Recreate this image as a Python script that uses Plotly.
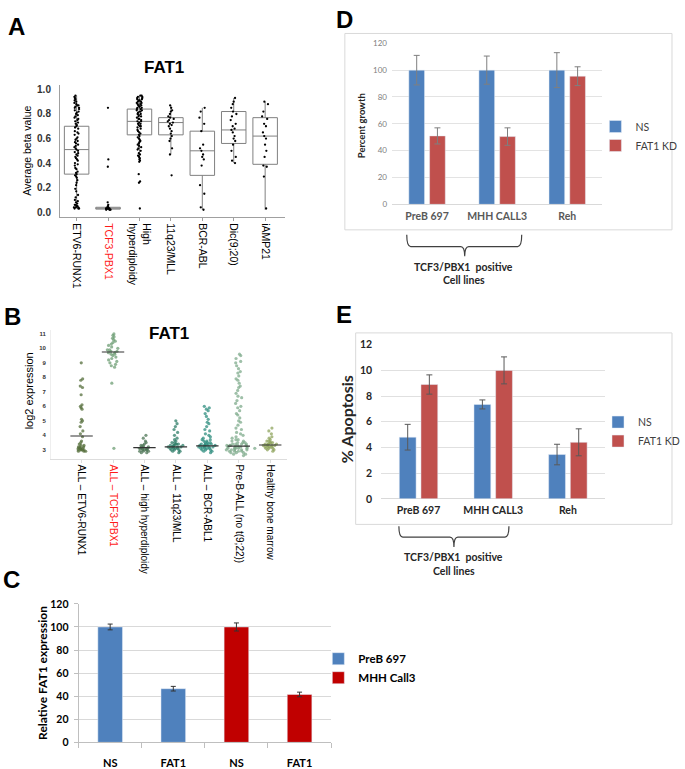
import plotly.graph_objects as go

W, H = 685, 769


def X(p):
    return round(p / W, 4)


def Y(p):
    return round(1 - p / H, 4)


ARIAL = "Liberation Sans, Arial"
CAL = "Lato, Carlito, Calibri"

# ---------------- A: methylation (beta values) ----------------
a_groups = ["ETV6-RUNX1", "<span style='color:#ff1a1a'>TCF3-PBX1</span>", "High<br>hyperdiploidy",
            "11q23/MLL", "BCR-ABL", "Dic(9;20)", "iAMP21"]
a_q1 = [0.31, 0.025, 0.63, 0.63, 0.30, 0.56, 0.39]
a_med = [0.51, 0.03, 0.74, 0.73, 0.50, 0.67, 0.62]
a_q3 = [0.70, 0.04, 0.84, 0.77, 0.66, 0.82, 0.77]
a_lo = [0.03, 0.02, 0.42, 0.47, 0.02, 0.40, 0.02]
a_hi = [0.95, 0.05, 0.95, 0.87, 0.85, 0.93, 0.90]

a_etv6 = [0.95, 0.94, 0.93, 0.92, 0.91, 0.90, 0.89, 0.88, 0.87, 0.87, 0.86, 0.85, 0.85, 0.84, 0.83, 0.82,
          0.81, 0.80, 0.79, 0.78, 0.77, 0.76, 0.75, 0.74, 0.73, 0.72, 0.71, 0.70, 0.69, 0.68, 0.66, 0.65,
          0.64, 0.63, 0.61, 0.60, 0.59, 0.58, 0.57, 0.56, 0.55, 0.54, 0.53, 0.52, 0.51, 0.50, 0.49, 0.48,
          0.47, 0.46, 0.45, 0.44, 0.43, 0.42, 0.40, 0.39, 0.38, 0.36, 0.35, 0.33, 0.32, 0.31, 0.30, 0.29,
          0.28, 0.26, 0.24, 0.22, 0.19, 0.17, 0.14, 0.12, 0.10, 0.09, 0.08, 0.07, 0.06, 0.06, 0.05, 0.05,
          0.04, 0.04, 0.04, 0.03, 0.03, 0.03]
a_tcf3 = [0.85, 0.43, 0.37, 0.08, 0.06, 0.05, 0.04, 0.04, 0.04, 0.03, 0.03, 0.03, 0.03, 0.03, 0.02,
          0.02, 0.02]
a_hyper = [0.95, 0.95, 0.94, 0.94, 0.93, 0.93, 0.92, 0.92, 0.91, 0.91, 0.90, 0.90, 0.89, 0.89, 0.88,
           0.88, 0.87, 0.87, 0.86, 0.86, 0.85, 0.85, 0.84, 0.84, 0.83, 0.83, 0.82, 0.82, 0.81, 0.80,
           0.80, 0.79, 0.78, 0.78, 0.77, 0.76, 0.76, 0.75, 0.74, 0.74, 0.73, 0.72, 0.72, 0.71, 0.70,
           0.70, 0.69, 0.68, 0.67, 0.66, 0.65, 0.64, 0.63, 0.62, 0.61, 0.60, 0.59, 0.58, 0.57, 0.56,
           0.55, 0.54, 0.53, 0.52, 0.51, 0.50, 0.48, 0.47, 0.46, 0.45, 0.44, 0.43, 0.42, 0.41, 0.31,
           0.25, 0.24, 0.03]
a_mll = [0.87, 0.85, 0.83, 0.82, 0.80, 0.78, 0.77, 0.76, 0.75, 0.74, 0.73, 0.72, 0.71, 0.70, 0.68,
         0.66, 0.64, 0.62, 0.60, 0.58, 0.52, 0.47, 0.30]
a_bcr = [0.85, 0.82, 0.77, 0.72, 0.66, 0.55, 0.52, 0.50, 0.47, 0.45, 0.43, 0.38, 0.22, 0.15, 0.04, 0.02]
a_dic = [0.93, 0.90, 0.88, 0.85, 0.82, 0.80, 0.78, 0.75, 0.72, 0.70, 0.68, 0.67, 0.65, 0.62, 0.60,
         0.58, 0.55, 0.50, 0.45, 0.42, 0.40]
a_iamp = [0.90, 0.88, 0.82, 0.78, 0.76, 0.72, 0.70, 0.65, 0.62, 0.60, 0.55, 0.50, 0.45, 0.38, 0.37,
          0.29, 0.03]
a_points = [a_etv6, a_tcf3, a_hyper, a_mll, a_bcr, a_dic, a_iamp]

# ---------------- B: expression (log2) ----------------
b_groups = ["ALL – ETV6-RUNX1", "<span style='color:#ff1a1a'>ALL – TCF3-PBX1</span>",
            "ALL – high hyperdiploidy", "ALL – 11q23/MLL", "ALL – BCR-ABL1",
            "Pre-B-ALL (no t(9;22))", "Healthy bone marrow"]
b_colors = ["#566f3c", "#6e9d74", "#4d7656", "#2f7d68", "#2f8d7f", "#7fab8c", "#8fa45e"]
b_med = [3.95, 9.75, 3.15, 3.2, 3.27, 3.25, 3.33]

# each group: sparse upper tail + dense core
b_etv6_tail = [9.0, 7.9, 7.8, 7.4, 7.3, 6.8, 6.1, 6.0, 5.9, 5.8, 5.1, 5.0, 4.9, 4.6, 4.3, 4.1, 3.9]
b_etv6_core = [3.6, 3.5, 3.4, 3.3, 3.3, 3.2, 3.2, 3.2, 3.1, 3.1, 3.1, 3.1, 3.0, 3.0, 3.0, 3.0, 3.0, 2.9,
               2.9, 2.9]
b_tcf3_tail = [11.0, 10.9, 10.8, 10.7, 8.8, 8.7, 7.6, 3.1]
b_tcf3_core = [10.6, 10.5, 10.4, 10.3, 10.2, 10.1, 10.0, 9.9, 9.9, 9.8, 9.8, 9.7, 9.7, 9.6, 9.6, 9.5, 9.4,
               9.3, 9.2, 9.1, 9.0, 8.9]
b_hyper_tail = [4.0, 3.8, 3.6]
b_hyper_core = [3.5, 3.4, 3.3, 3.3, 3.2, 3.2, 3.2, 3.1, 3.1, 3.1, 3.1, 3.1, 3.0, 3.0, 3.0, 3.0, 2.9, 2.9,
                2.9, 2.8, 2.8]
b_mll_tail = [5.0, 4.8, 4.6, 4.4, 4.2, 4.0, 3.8]
b_mll_core = [3.7, 3.6, 3.5, 3.5, 3.4, 3.4, 3.4, 3.3, 3.3, 3.3, 3.3, 3.2, 3.2, 3.2, 3.2, 3.2, 3.1, 3.1,
              3.1, 3.1, 3.0, 3.0, 3.0, 2.9, 2.9, 2.8]
b_bcr_tail = [6.0, 5.9, 5.8, 5.7, 5.5, 5.3, 5.1, 4.9, 4.8, 4.6, 4.4, 4.3, 4.1, 4.0]
b_bcr_core = [3.9, 3.8, 3.7, 3.7, 3.6, 3.6, 3.5, 3.5, 3.5, 3.4, 3.4, 3.4, 3.4, 3.3, 3.3, 3.3, 3.3, 3.3,
              3.2, 3.2, 3.2, 3.2, 3.2, 3.1, 3.1, 3.1, 3.1, 3.0, 3.0, 3.0, 2.9, 2.9, 2.8]
b_preb_tail = [9.6, 9.5, 9.3, 9.1, 9.0, 8.8, 8.6, 8.4, 8.3, 8.1, 7.9, 7.8, 7.6, 7.4, 7.3, 7.1, 6.9, 6.7,
               6.6, 6.4, 6.2, 6.0, 5.9, 5.7, 5.5, 5.4, 5.2, 5.0, 4.9, 4.7, 4.5, 4.4, 4.2, 4.1]
b_preb_core = [4.0, 3.9, 3.8, 3.7, 3.7, 3.6, 3.6, 3.5, 3.5, 3.5, 3.4, 3.4, 3.4, 3.4, 3.3, 3.3, 3.3, 3.3,
               3.3, 3.2, 3.2, 3.2, 3.2, 3.2, 3.2, 3.1, 3.1, 3.1, 3.1, 3.1, 3.1, 3.0, 3.0, 3.0, 3.0, 3.0,
               2.9, 2.9, 2.9, 2.9, 2.8, 2.8, 2.8, 2.7, 2.7, 2.6]
b_healthy_tail = [4.5, 4.3, 4.1]
b_healthy_core = [3.9, 3.8, 3.7, 3.6, 3.6, 3.5, 3.5, 3.5, 3.4, 3.4, 3.4, 3.4, 3.3, 3.3, 3.3, 3.3, 3.3,
                  3.2, 3.2, 3.2, 3.2, 3.1, 3.1, 3.1, 3.0, 3.0, 2.9]
b_tails = [b_etv6_tail, b_tcf3_tail, b_hyper_tail, b_mll_tail, b_bcr_tail, b_preb_tail, b_healthy_tail]
b_cores = [b_etv6_core, b_tcf3_core, b_hyper_core, b_mll_core, b_bcr_core, b_preb_core, b_healthy_core]
b_core_w = [0.34, 0.4, 0.4, 0.5, 0.56, 1.15, 0.45]   # swarm widths (axis units)
b_tail_w = [0.12, 0.2, 0.12, 0.14, 0.2, 0.22, 0.14]

# ---------------- C: knockdown efficiency ----------------
c_labels = ["NS", "FAT1", "NS", "FAT1"]
c_preb = [100, 46.5]
c_preb_err = [2.5, 2.0]
c_mhh = [100, 41.5]
c_mhh_err = [3.5, 2.0]

# ---------------- D / E: cell lines ----------------
cell_lines = ["PreB 697", "MHH CALL3", "Reh"]
d_ns = [100, 100, 100]
d_ns_err = [11, 10.5, 13]
d_kd = [51, 50.5, 95.5]
d_kd_err = [6, 6.5, 7]
e_ns = [4.8, 7.35, 3.45]
e_ns_err = [1.0, 0.35, 0.8]
e_kd = [8.9, 10.0, 4.4]
e_kd_err = [0.75, 1.05, 1.05]

BLUE, RED, DARKRED = "#4f81bd", "#c0504d", "#c00000"

fig = go.Figure()

# --- A boxes + points
fig.add_trace(go.Box(x=list(range(7)), q1=a_q1, median=a_med, q3=a_q3, lowerfence=a_lo, upperfence=a_hi,
                     width=0.78, whiskerwidth=0, fillcolor="white", line=dict(color="#808080", width=1),
                     boxpoints=False, xaxis="x", yaxis="y", showlegend=False))
for i, vals in enumerate(a_points):
    fig.add_trace(go.Box(x=[i] * len(vals), y=vals, boxpoints="all", jitter=0.26, pointpos=0, width=0.78,
                         fillcolor="rgba(0,0,0,0)", line=dict(color="rgba(0,0,0,0)"),
                         marker=dict(color="black", size=2.3), xaxis="x", yaxis="y", showlegend=False))

# --- B swarms
for i in range(7):
    for vals, w in ((b_tails[i], b_tail_w[i]), (b_cores[i], b_core_w[i])):
        fig.add_trace(go.Box(x=[i] * len(vals), y=vals, boxpoints="all", jitter=1, pointpos=0, width=w,
                             fillcolor="rgba(0,0,0,0)", line=dict(color="rgba(0,0,0,0)"),
                             marker=dict(color=b_colors[i], size=3.2, opacity=0.75),
                             xaxis="x2", yaxis="y2", showlegend=False))
fig.add_trace(go.Scatter(x=list(range(7)), y=b_med, mode="markers", xaxis="x2", yaxis="y2", showlegend=False,
                         marker=dict(symbol="line-ew", size=16, line=dict(color="#333333", width=1.2))))

# --- C bars
fig.add_trace(go.Bar(x=[0, 1], y=c_preb, name="PreB 697", marker_color=BLUE, width=0.39, offset=-0.195,
                     error_y=dict(type="data", array=c_preb_err, color="#333333", thickness=1, width=2.5),
                     xaxis="x3", yaxis="y3", legend="legend2"))
fig.add_trace(go.Bar(x=[2, 3], y=c_mhh, name="MHH Call3", marker_color=DARKRED, width=0.39, offset=-0.195,
                     error_y=dict(type="data", array=c_mhh_err, color="#333333", thickness=1, width=2.5),
                     xaxis="x3", yaxis="y3", legend="legend2"))

# --- D bars
fig.add_trace(go.Bar(x=[0, 1, 2], y=d_ns, name="NS", marker_color=BLUE, width=0.224, offset=-0.26,
                     error_y=dict(type="data", array=d_ns_err, color="#7f7f7f", thickness=1, width=3),
                     xaxis="x4", yaxis="y4", legend="legend3"))
fig.add_trace(go.Bar(x=[0, 1, 2], y=d_kd, name="FAT1 KD", marker_color=RED, width=0.224, offset=0.036,
                     error_y=dict(type="data", array=d_kd_err, color="#7f7f7f", thickness=1, width=3),
                     xaxis="x4", yaxis="y4", legend="legend3"))

# --- E bars
fig.add_trace(go.Bar(x=[0, 1, 2], y=e_ns, name="NS", marker_color=BLUE, width=0.225, offset=-0.2575,
                     error_y=dict(type="data", array=e_ns_err, color="#595959", thickness=1, width=3),
                     xaxis="x5", yaxis="y5", legend="legend4"))
fig.add_trace(go.Bar(x=[0, 1, 2], y=e_kd, name="FAT1 KD", marker_color=RED, width=0.225, offset=0.0325,
                     error_y=dict(type="data", array=e_kd_err, color="#595959", thickness=1, width=3),
                     xaxis="x5", yaxis="y5", legend="legend4"))

ax_common = dict(showgrid=False, zeroline=False, fixedrange=True)

layout = dict(
    width=W, height=H, margin=dict(l=0, r=0, t=0, b=0), paper_bgcolor="white", plot_bgcolor="white",
    boxmode="overlay", barmode="overlay", font=dict(family=ARIAL, color="black"),
    # A
    xaxis=dict(ax_common, domain=[X(61), X(290)], range=[-0.53, 6.63], anchor="y", tickmode="array",
               tickvals=list(range(7)), ticktext=a_groups, tickangle=90, ticks="outside", ticklen=3,
               tickcolor="#a0a0a0", showline=True, linecolor="#a0a0a0", tickfont=dict(size=10.5)),
    yaxis=dict(ax_common, domain=[Y(215), Y(80)], range=[-0.04, 1.04], anchor="x", tickvals=[0, 0.2, 0.4, 0.6, 0.8, 1.0],
               tickformat=".1f", showline=True, linecolor="#a0a0a0", ticklabelstandoff=6,
               tickfont=dict(size=10, weight="bold", color="#333333")),
    # B
    xaxis2=dict(ax_common, domain=[X(52), X(292)], range=[-0.97, 6.53], anchor="y2", tickmode="array",
                tickvals=list(range(7)), ticktext=b_groups, tickangle=90, ticks="outside", ticklen=3,
                tickcolor="#dddddd", showline=True, linecolor="#dddddd", tickfont=dict(size=10)),
    yaxis2=dict(ax_common, domain=[Y(461), Y(330)], range=[2.39, 11.27], anchor="x2", dtick=1, tick0=3,
                showline=True, linecolor="#eeeeee", ticklabelstandoff=3,
                tickfont=dict(size=6, weight="bold", color="#333333")),
    # C
    xaxis3=dict(ax_common, domain=[X(80), X(337)], range=[-0.5, 3.5], anchor="y3", tickmode="array",
                tickvals=[0, 1, 2, 3], ticktext=c_labels, ticks="", showline=True, linecolor="#bfbfbf",
                minor=dict(tickmode="array", tickvals=[-0.5, 0.5, 1.5, 2.5, 3.5], ticks="outside", ticklen=5,
                           tickcolor="#bfbfbf"),
                ticklabelstandoff=10, tickfont=dict(family=CAL, size=11, weight="bold")),
    yaxis3=dict(domain=[Y(750), Y(609)], range=[0, 120], anchor="x3", dtick=20, showgrid=True,
                gridcolor="#d9d9d9", zeroline=False, showline=True, linecolor="#bfbfbf", ticks="outside",
                ticklen=4, tickcolor="#bfbfbf", ticklabelstandoff=3, fixedrange=True,
                tickfont=dict(family=CAL, size=10.5, weight="bold")),
    # D
    xaxis4=dict(ax_common, domain=[X(399), X(613)], range=[-0.5, 2.5], anchor="y4", tickmode="array",
                tickvals=[0, 1, 2], ticktext=cell_lines, ticks="", ticklabelstandoff=4,
                tickfont=dict(family=CAL, size=10.5, weight="bold", color="#595959")),
    yaxis4=dict(domain=[Y(202), Y(38)], range=[0, 120], anchor="x4", dtick=20, showgrid=True,
                gridcolor="#e3e3e3", zeroline=True, zerolinecolor="#d9d9d9", zerolinewidth=1,
                ticklabelstandoff=4, fixedrange=True, tickfont=dict(family=CAL, size=8, color="#808080")),
    # E
    xaxis5=dict(ax_common, domain=[X(388), X(616)], range=[-0.5, 2.5], anchor="y5", tickmode="array",
                tickvals=[0, 1, 2], ticktext=cell_lines, ticks="", ticklabelstandoff=4,
                tickfont=dict(family=CAL, size=10.5, weight="bold", color="#262626")),
    yaxis5=dict(domain=[Y(502), Y(345)], range=[0, 12], anchor="x5", dtick=2, showgrid=True,
                gridcolor="#e0e0e0", zeroline=True, zerolinecolor="#d9d9d9", zerolinewidth=1,
                ticklabelstandoff=8, fixedrange=True, tickfont=dict(family=CAL, size=10.5, weight="bold", color="#262626")),
    legend2=dict(x=X(324), y=Y(650), xanchor="left", yanchor="top", bgcolor="rgba(0,0,0,0)",
                 font=dict(family=CAL, size=11.5, weight="bold"), tracegroupgap=0),
    legend3=dict(x=X(606), y=Y(108), xanchor="left", yanchor="top", bgcolor="rgba(0,0,0,0)",
                 font=dict(family=CAL, size=10.5, color="#404040"), tracegroupgap=0),
    legend4=dict(x=X(609), y=Y(409), xanchor="left", yanchor="top", bgcolor="rgba(0,0,0,0)",
                 font=dict(family=CAL, size=10.5, color="#404040"), tracegroupgap=0),
)
fig.update_layout(**layout)


def ann(x, y, text, size, bold=False, angle=0, family=ARIAL, color="black"):
    fig.add_annotation(x=X(x), y=Y(y), xref="paper", yref="paper", text=text, showarrow=False,
                       textangle=angle, xanchor="center", yanchor="middle",
                       font=dict(family=family, size=size, color=color, weight="bold" if bold else "normal"))


# panel letters
ann(17, 21, "A", 24, True)
ann(13, 316, "B", 24, True)
ann(12, 584, "C", 24, True)
ann(351, 14, "D", 24, True)
ann(350, 314, "E", 24, True)
# titles
ann(167, 63, "FAT1", 17, True)
ann(172, 334, "FAT1", 17, True)
# axis titles
ann(28, 148, "Average beta value", 10.5, angle=-90)
ann(29, 392, "log2 expression", 11, angle=-90)
ann(43, 679, "Relative FAT1 expression", 12, True, -90, CAL)
ann(368, 122, "Percent growth", 9.5, True, -90, CAL, "#262626")
ann(353, 421, "% Apoptosis", 16, True, -90, CAL, "#262626")
# brace captions
ann(472, 266, "TCF3/PBX1  positive", 10.5, True, family=CAL, color="#262626")
ann(472, 279, "Cell lines", 10.5, True, family=CAL, color="#262626")
ann(462, 561, "TCF3/PBX1  positive", 10.5, True, family=CAL, color="#262626")
ann(462, 575, "Cell lines", 10.5, True, family=CAL, color="#262626")

# frames around D and E charts
fig.add_shape(type="rect", xref="paper", yref="paper", x0=X(351), x1=X(684), y0=Y(228), y1=Y(28),
              line=dict(color="#d9d9d9", width=1))
fig.add_shape(type="rect", xref="paper", yref="paper", x0=X(362), x1=X(684), y0=Y(528), y1=Y(333),
              line=dict(color="#d9d9d9", width=1))


def brace(x0, x1, xm, ytop, ymid, ytip):
    r = 4
    p = (f"M{X(x0)},{Y(ytop)} Q{X(x0)},{Y(ymid)} {X(x0 + r)},{Y(ymid)} L{X(xm - r)},{Y(ymid)} "
         f"Q{X(xm)},{Y(ymid)} {X(xm)},{Y(ytip)} Q{X(xm)},{Y(ymid)} {X(xm + r)},{Y(ymid)} "
         f"L{X(x1 - r)},{Y(ymid)} Q{X(x1)},{Y(ymid)} {X(x1)},{Y(ytop)}")
    fig.add_shape(type="path", path=p, xref="paper", yref="paper", line=dict(color="#404040", width=1.2))


brace(414, 531, 473, 233, 245, 255)
brace(406, 518, 462, 530, 541, 551)

# drop the default page margin so the figure sits at the window's corner
fig.write_html("out.html", config={"displayModeBar": False},
               post_script="document.body.style.margin='0';document.body.style.overflow='hidden';")
